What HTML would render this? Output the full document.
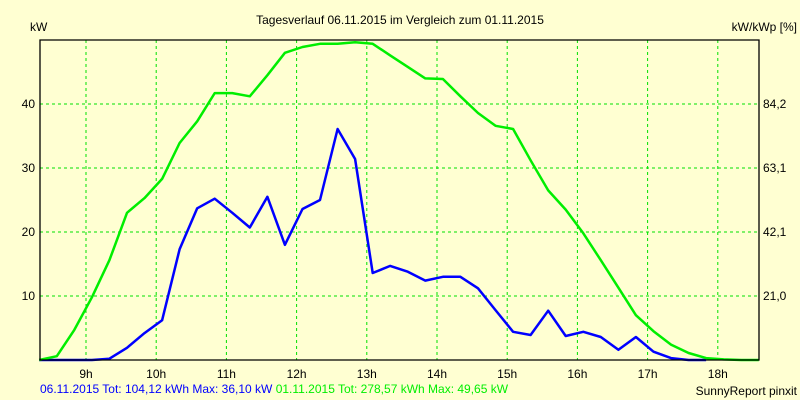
<!DOCTYPE html>
<html><head><meta charset="utf-8"><style>
html,body{margin:0;padding:0;background:#ffffd2;}
svg{display:block;font-family:"Liberation Sans",sans-serif;}
</style></head><body>
<svg id="chart" width="800" height="400" viewBox="0 0 800 400">
<rect x="0" y="0" width="800" height="400" fill="#ffffd2"/>
<text x="400" y="24" font-size="12" text-anchor="middle" fill="#000">Tagesverlauf 06.11.2015 im Vergleich zum 01.11.2015</text>
<text x="30" y="31" font-size="12" fill="#000">kW</text>
<text x="797" y="31" font-size="12" text-anchor="end" fill="#000">kW/kWp [%]</text>
<g id="grid"></g>
<g id="series"></g>
<g id="axes"></g>
<text x="40" y="393" font-size="12"><tspan fill="#0000ff">06.11.2015 Tot: 104,12 kWh Max: 36,10 kW </tspan><tspan fill="#00ee00">01.11.2015 Tot: 278,57 kWh Max: 49,65 kW</tspan></text>
<text x="797" y="395" font-size="12" text-anchor="end" fill="#000">SunnyReport pinxit</text>
</svg>
<script>
const hourLabels = ["9h","10h","11h","12h","13h","14h","15h","16h","17h","18h"];
const hourValues = [9,10,11,12,13,14,15,16,17,18];
const leftTicks = [10,20,30,40];
const rightTickLabels = ["21,0","42,1","63,1","84,2"];
// 15-minute samples starting 08:20
const startHour = 8 + 20/60;
const stepHour = 0.25;
const green = [0,0.6,4.7,9.8,15.6,23,25.3,28.3,33.9,37.3,41.7,41.7,41.2,44.5,48,48.9,49.4,49.4,49.65,49.4,47.6,45.8,44.0,43.9,41.2,38.6,36.6,36.1,31.2,26.5,23.5,19.8,15.6,11.3,7.0,4.5,2.4,1.1,0.3,0.1,0,0];
const blue = [0,0,0,0,0.2,1.9,4.2,6.2,17.3,23.7,25.2,23.0,20.7,25.5,18.0,23.6,25.0,36.1,31.4,13.6,14.7,13.8,12.4,13.0,13.0,11.2,7.8,4.4,3.9,7.7,3.75,4.4,3.6,1.6,3.6,1.3,0.3,0,0];

const L=40,R=759,T=40,B=360;
const hx0=86, pxPerHour=70.2;
function xs(h){return hx0+(h-9)*pxPerHour;}
function ys(v){return B-(v/50)*(B-T);}
const NS="http://www.w3.org/2000/svg";
function mk(tag,attrs,parent){const e=document.createElementNS(NS,tag);for(const k in attrs)e.setAttribute(k,attrs[k]);parent.appendChild(e);return e;}
const grid=document.getElementById('grid'),axes=document.getElementById('axes'),series=document.getElementById('series');

hourValues.forEach((h,i)=>{
  const x=xs(h);
  const g=mk('line',{x1:x,y1:T,x2:x,y2:B,stroke:'#00e000','stroke-width':1,'stroke-dasharray':'3,3'},grid);
  
  
  const t=mk('text',{x:x,y:378,'font-size':12,'text-anchor':'middle',fill:'#000'},axes);
  t.textContent=hourLabels[i];
  
  
});
leftTicks.forEach((v,i)=>{
  const y=ys(v);
  const g=mk('line',{x1:L,y1:y,x2:R,y2:y,stroke:'#00e000','stroke-width':1,'stroke-dasharray':'3,3'},grid);
  
  
  const t=mk('text',{x:35,y:y+4,'font-size':12,'text-anchor':'end',fill:'#000'},axes);
  t.textContent=String(v);
  
  
  const t2=mk('text',{x:763,y:y+4,'font-size':12,fill:'#000'},axes);
  t2.textContent=rightTickLabels[i];
  
  
});
const frame=mk('path',{d:`M${L},${T}H${R}V${B}H${L}Z`,fill:'none',stroke:'#000','stroke-width':1.3},axes);



function line(arr,color,name){
  const pts=arr.map((v,i)=>xs(startHour+i*stepHour).toFixed(1)+','+ys(v).toFixed(1)).join(' ');
  const p=mk('polyline',{points:pts,fill:'none',stroke:color,'stroke-width':2.5,'stroke-linejoin':'round'},series);
  
  
}
line(blue,'#0000ff','series-06-11-2015');
line(green,'#00ee00','series-01-11-2015');
</script>
</body></html>
